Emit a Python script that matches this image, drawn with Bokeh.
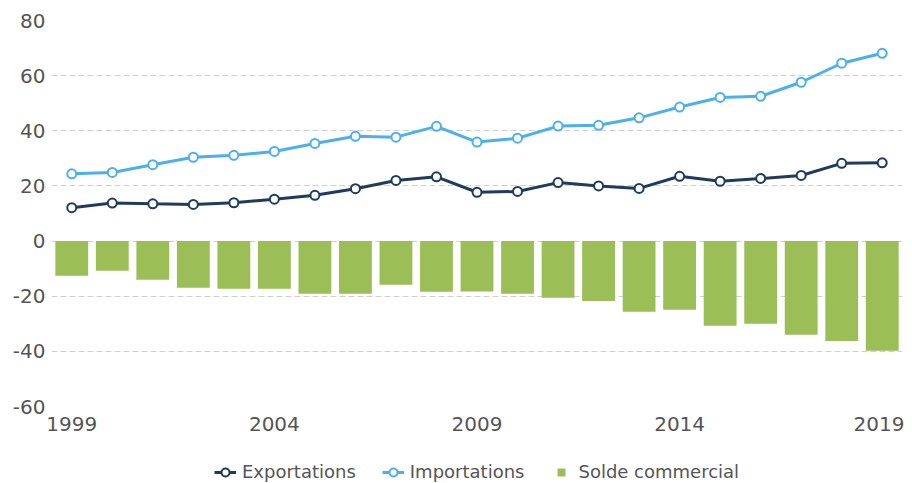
from bokeh.plotting import figure
from bokeh.layouts import column
from bokeh.models import Legend, LegendItem, FixedTicker, ColumnDataSource, Range1d, CustomJSTickFormatter
from bokeh.embed import file_html
from bokeh.resources import INLINE

years = list(range(1999, 2020))
exportations = [12.1, 13.8, 13.5, 13.3, 13.9, 15.2, 16.6, 19.0, 22.0, 23.3,
                17.7, 18.0, 21.2, 20.0, 19.1, 23.5, 21.7, 22.7, 23.8, 28.2, 28.4]
importations = [24.4, 24.9, 27.7, 30.4, 31.1, 32.5, 35.4, 38.0, 37.7, 41.6,
                35.9, 37.3, 41.7, 42.0, 44.7, 48.6, 52.1, 52.5, 57.6, 64.5, 68.1]
solde = [-12.6, -10.8, -14.0, -16.9, -17.3, -17.3, -19.1, -19.1, -15.8, -18.4,
         -18.3, -19.1, -20.6, -21.7, -25.6, -24.9, -30.7, -30.0, -34.0, -36.2, -39.8]
x_ticks = [1999, 2004, 2009, 2014, 2019]
y_ticks = [-60, -40, -20, 0, 20, 40, 60, 80]

COL_EXP = "#1f3b5e"
COL_IMP = "#4cb0ec"
COL_BAR = "#9bbe57"
TXT = "#555555"
FONT = "DejaVu Sans"

src = ColumnDataSource(dict(year=years, exp=exportations, imp=importations, solde=solde))

p = figure(width=904, height=444, output_backend="svg", toolbar_location=None,
           x_range=Range1d(1998.5, 2019.5), y_range=Range1d(-60, 80),
           min_border_left=51, min_border_right=2, min_border_top=20, min_border_bottom=38)
p.outline_line_color = None

p.vbar(x="year", top="solde", bottom=0, width=0.81, source=src,
       fill_color=COL_BAR, line_color=None)
p.line("year", "imp", source=src, line_color=COL_IMP, line_width=3)
p.scatter("year", "imp", source=src, size=9, fill_color="white",
          line_color=COL_IMP, line_width=2)
p.line("year", "exp", source=src, line_color=COL_EXP, line_width=3)
p.scatter("year", "exp", source=src, size=9, fill_color="white",
          line_color=COL_EXP, line_width=2)

p.xgrid.visible = False
p.ygrid.grid_line_color = "#d0d0d0"
p.ygrid.grid_line_dash = "6 3"
p.ygrid.grid_line_width = 1
p.ygrid.ticker = FixedTicker(ticks=y_ticks)

fmt = CustomJSTickFormatter(code="return String(tick);")
for ax in (p.xaxis[0], p.yaxis[0]):
    ax.axis_line_color = None
    ax.major_tick_line_color = None
    ax.minor_tick_line_color = None
    ax.major_tick_out = 0
    ax.major_tick_in = 0
    ax.minor_tick_out = 0
    ax.major_label_text_color = TXT
    ax.major_label_text_font = FONT
    ax.major_label_text_font_size = "20px"
    ax.formatter = fmt

p.xaxis.ticker = FixedTicker(ticks=x_ticks)
p.xaxis.major_label_standoff = 10
p.yaxis.ticker = FixedTicker(ticks=y_ticks)
p.yaxis.major_label_standoff = 6

# legend strip (proxy renderers, hidden, only used for the legend glyphs)
leg = figure(width=904, height=38, output_backend="svg", toolbar_location=None,
             x_axis_location=None, y_axis_location=None,
             min_border_left=0, min_border_right=0, min_border_top=0, min_border_bottom=0)
leg.outline_line_color = None
leg.xgrid.visible = False
leg.ygrid.visible = False
le_l = leg.line("year", "exp", source=src, line_color=COL_EXP, line_width=3, visible=False)
le_c = leg.scatter("year", "exp", source=src, size=9, fill_color="white",
                   line_color=COL_EXP, line_width=2, visible=False)
li_l = leg.line("year", "imp", source=src, line_color=COL_IMP, line_width=3, visible=False)
li_c = leg.scatter("year", "imp", source=src, size=9, fill_color="white",
                   line_color=COL_IMP, line_width=2, visible=False)
lb = leg.scatter("year", "solde", source=src, marker="square", size=15,
                 fill_color=COL_BAR, line_color=None, visible=False)

legend = Legend(items=[
    LegendItem(label="Exportations", renderers=[le_l, le_c]),
    LegendItem(label="Importations", renderers=[li_l, li_c]),
    LegendItem(label="Solde commercial", renderers=[lb]),
], orientation="horizontal", location=(163, 0), padding=0, margin=0, spacing=26,
    glyph_width=22, glyph_height=20, label_standoff=6,
    label_text_font=FONT, label_text_font_size="18px", label_text_color=TXT,
    border_line_color=None, background_fill_alpha=0, inactive_fill_alpha=0)
leg.add_layout(legend)

open("out.html", "w").write(file_html(column(p, leg), INLINE))
